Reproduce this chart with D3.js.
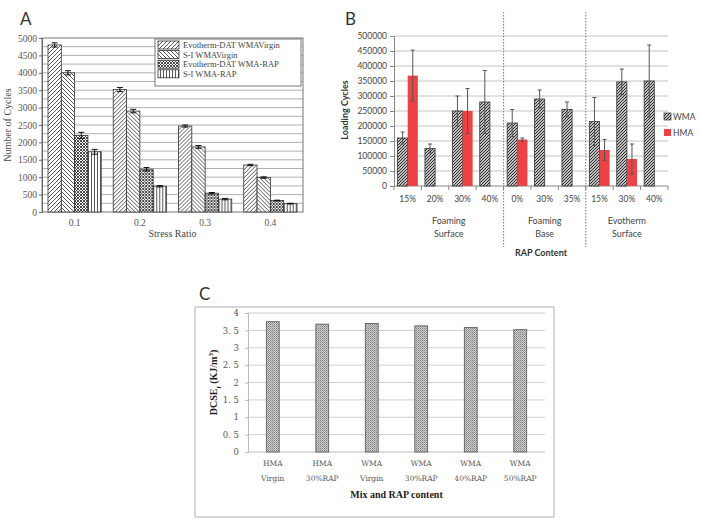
<!DOCTYPE html>
<html>
<head>
<meta charset="utf-8">
<script src="https://cdn.jsdelivr.net/npm/d3@7"></script>
<style>
  body { margin: 0; background: #fff; }
  svg { display: block; }
</style>
</head>
<body>
<script>
// ---- panel A data
const stressRatios = ["0.1", "0.2", "0.3", "0.4"]
const mixesA = ["Evotherm-DAT WMAVirgin", "S-I WMAVirgin", "Evotherm-DAT WMA-RAP", "S-I WMA-RAP"]
const cyclesA = [
  [4800, 4000, 2200, 1730],
  [3520, 2900, 1230, 740],
  [2470, 1870, 540, 370],
  [1350, 990, 330, 240],
]
const cyclesErrA = [
  [60, 60, 90, 70],
  [60, 50, 50, 20],
  [30, 40, 20, 20],
  [20, 20, 10, 10],
]
const ticksA = [0, 500, 1000, 1500, 2000, 2500, 3000, 3500, 4000, 4500, 5000]

// ---- panel B data
const rapB = ["15%", "20%", "30%", "40%", "0%", "30%", "35%", "15%", "30%", "40%"]
const groupNamesB = [["Foaming", "Surface"], ["Foaming", "Base"], ["Evotherm", "Surface"]]
const groupSizesB = [4, 3, 3]
const wmaB = [160000, 125000, 250000, 280000, 210000, 290000, 255000, 215000, 347000, 350000]
const wmaErrB = [20000, 15000, 50000, 105000, 45000, 30000, 25000, 80000, 43000, 120000]
const hmaB = [368000, null, 250000, null, 155000, null, null, 120000, 90000, null]
const hmaErrB = [85000, null, 75000, null, 5000, null, null, 35000, 50000, null]
const seriesB = ["WMA", "HMA"]
const ticksB = [0, 50000, 100000, 150000, 200000, 250000, 300000, 350000, 400000, 450000, 500000]

// ---- panel C data
const mixesC = [["HMA", "Virgin"], ["HMA", "30%RAP"], ["WMA", "Virgin"], ["WMA", "30%RAP"], ["WMA", "40%RAP"], ["WMA", "50%RAP"]]
const dcseC = [3.75, 3.68, 3.70, 3.63, 3.58, 3.52]
const ticksC = [0, 0.5, 1, 1.5, 2, 2.5, 3, 3.5, 4]

const width = 701
const height = 529
const serif = "'Liberation Serif', 'DejaVu Serif', serif"
const sans = "Lato, 'Open Sans', sans-serif"

const svg = d3.select("body").append("svg")
  .attr("width", width)
  .attr("height", height)

const defs = svg.append("defs")

function hatch(id, size, d, stroke, sw, bg) {
  const p = defs.append("pattern")
    .attr("id", id)
    .attr("patternUnits", "userSpaceOnUse")
    .attr("width", size)
    .attr("height", size)
  p.append("rect").attr("width", size).attr("height", size).attr("fill", bg || "#fff")
  p.append("path").attr("d", d).attr("stroke", stroke).attr("stroke-width", sw).attr("fill", "none")
}
// A patterns
hatch("pA0", 4, "M-1,1 l2,-2 M0,4 l4,-4 M3,5 l2,-2", "#444", 0.9)
hatch("pA1", 4, "M-1,3 l2,2 M0,0 l4,4 M3,-1 l2,2", "#444", 0.9)
hatch("pA2", 3, "M0,0 l3,3 M0,3 l3,-3", "#333", 0.9)
hatch("pA3", 3, "M1.5,0 v3", "#444", 0.9)
// B pattern
hatch("pB", 3, "M-1,1 l2,-2 M0,3 l3,-3 M2,4 l2,-2", "#222", 1.1)
// C stipple
{
  const p = defs.append("pattern")
    .attr("id", "pC").attr("patternUnits", "userSpaceOnUse")
    .attr("width", 2).attr("height", 2)
  p.append("rect").attr("width", 2).attr("height", 2).attr("fill", "#cfcfcf")
  p.append("rect").attr("width", 1).attr("height", 1).attr("fill", "#7e7e7e")
  p.append("rect").attr("x", 1).attr("y", 1).attr("width", 1).attr("height", 1).attr("fill", "#a0a0a0")
}

function panelLetter(t, x, y) {
  svg.append("text").attr("x", x).attr("y", y)
    .attr("font-family", sans).attr("font-size", 17)
    .attr("fill", "#333").text(t)
}

// ================= Panel A =================
{
  const x0 = 42, x1 = 303, yTop = 38, yBot = 212
  const g = svg.append("g")
  const x = d3.scaleBand().domain(stressRatios).range([x0, x1])
  const xs = d3.scaleBand().domain(d3.range(mixesA.length)).range([0, x.bandwidth()]).paddingOuter(0.45)
  const y = d3.scaleLinear().domain([0, 5000]).range([yBot, yTop])

  // grid every 250
  g.selectAll(".gridA").data(d3.range(250, 5000, 250)).enter().append("line")
    .attr("x1", x0).attr("x2", x1)
    .attr("y1", d => y(d)).attr("y2", d => y(d))
    .attr("stroke", "#9a9a9a").attr("stroke-width", 0.8)

  g.append("rect").attr("x", x0).attr("y", yTop).attr("width", x1 - x0).attr("height", yBot - yTop)
    .attr("fill", "none").attr("stroke", "#777").attr("stroke-width", 1)

  const yAxis = g.append("g").attr("transform", `translate(${x0},0)`)
    .call(d3.axisLeft(y).tickValues(ticksA).tickFormat(d3.format("d")).tickSize(3).tickPadding(2))
  yAxis.select(".domain").attr("stroke", "#666")
  yAxis.selectAll(".tick line").attr("stroke", "#666")
  yAxis.selectAll("text").attr("font-family", serif).attr("font-size", 9.5).attr("fill", "#555")

  const xAxis = g.append("g").attr("transform", `translate(0,${yBot})`)
    .call(d3.axisBottom(x).tickSize(0).tickPadding(7))
  xAxis.select(".domain").remove()
  xAxis.selectAll("text").attr("font-family", serif).attr("font-size", 9.5).attr("fill", "#555")

  const grp = g.selectAll(".grpA").data(stressRatios).enter().append("g")
    .attr("transform", d => `translate(${x(d)},0)`)
  grp.selectAll("rect").data((d, i) => cyclesA[i].map((v, j) => ({ v, j }))).enter().append("rect")
    .attr("x", d => xs(d.j)).attr("width", xs.bandwidth())
    .attr("y", d => y(d.v)).attr("height", d => yBot - y(d.v))
    .attr("fill", d => `url(#pA${d.j})`)
    .attr("stroke", "#333").attr("stroke-width", 0.8)
  grp.each(function (d, i) {
    const eg = d3.select(this)
    cyclesA[i].forEach((v, j) => {
      const e = cyclesErrA[i][j]
      const cx = xs(j) + xs.bandwidth() / 2
      eg.append("path")
        .attr("d", `M${cx},${y(v - e)}V${y(v + e)}M${cx - 3},${y(v + e)}h6M${cx - 3},${y(v - e)}h6`)
        .attr("stroke", "#111").attr("stroke-width", 1).attr("fill", "none")
    })
  })

  // legend
  const lg = g.append("g")
  lg.append("rect").attr("x", 155).attr("y", 39).attr("width", 146).attr("height", 47)
    .attr("fill", "#fff").attr("stroke", "#777").attr("stroke-width", 1)
  mixesA.forEach((m, j) => {
    const ly = 41 + j * 9.6
    lg.append("rect").attr("x", 158).attr("y", ly).attr("width", 21).attr("height", 8)
      .attr("fill", `url(#pA${j})`).attr("stroke", "#333").attr("stroke-width", 0.8)
    lg.append("text").attr("x", 183).attr("y", ly + 7)
      .attr("font-family", serif).attr("font-size", 8.5).attr("fill", "#444").text(m)
  })

  g.append("text").attr("transform", `translate(11,${(yTop + yBot) / 2}) rotate(-90)`)
    .attr("text-anchor", "middle").attr("font-family", serif).attr("font-size", 10)
    .attr("fill", "#444").text("Number of Cycles")
  g.append("text").attr("x", (x0 + x1) / 2).attr("y", 237)
    .attr("text-anchor", "middle").attr("font-family", serif).attr("font-size", 10)
    .attr("fill", "#444").text("Stress Ratio")
  panelLetter("A", 20, 25)
}

// ================= Panel B =================
{
  const x0 = 394, x1 = 668, yTop = 36, yBot = 186
  const g = svg.append("g")
  const x = d3.scaleBand().domain(d3.range(rapB.length)).range([x0, x1])
  const xs = d3.scaleBand().domain(seriesB).range([0, x.bandwidth()]).paddingOuter(0.35)
  const y = d3.scaleLinear().domain([0, 500000]).range([yBot, yTop])

  g.selectAll(".gridB").data(ticksB.slice(1)).enter().append("line")
    .attr("x1", x0).attr("x2", x1)
    .attr("y1", d => y(d)).attr("y2", d => y(d))
    .attr("stroke", "#c4c4c4").attr("stroke-width", 1)

  const yAxis = g.append("g").attr("transform", `translate(${x0},0)`)
    .call(d3.axisLeft(y).tickValues(ticksB).tickFormat(d3.format("d")).tickSize(4).tickPadding(3))
  yAxis.select(".domain").attr("stroke", "#888")
  yAxis.selectAll(".tick line").attr("stroke", "#888")
  yAxis.selectAll("text").attr("font-family", sans).attr("font-size", 8.5).attr("fill", "#444")

  // baseline with ticks at category boundaries
  g.append("line").attr("x1", x0).attr("x2", x1).attr("y1", yBot).attr("y2", yBot)
    .attr("stroke", "#888")
  g.selectAll(".tickB").data(d3.range(rapB.length + 1)).enter().append("line")
    .attr("x1", d => x0 + d * x.step()).attr("x2", d => x0 + d * x.step())
    .attr("y1", yBot).attr("y2", yBot + 4).attr("stroke", "#888")

  g.selectAll(".labB").data(rapB).enter().append("text")
    .attr("x", (d, i) => x(i) + x.bandwidth() / 2).attr("y", 202)
    .attr("text-anchor", "middle").attr("font-family", sans).attr("font-size", 8.5)
    .attr("fill", "#444").text(d => d)

  // group separators and labels
  let start = 0
  groupNamesB.forEach((nm, k) => {
    const a = x0 + start * x.step()
    const b = x0 + (start + groupSizesB[k]) * x.step()
    if (k > 0) {
      g.append("line").attr("x1", a).attr("x2", a).attr("y1", 12).attr("y2", 247)
        .attr("stroke", "#777").attr("stroke-width", 1).attr("stroke-dasharray", "1.5,1.5")
    }
    nm.forEach((line, li) => {
      g.append("text").attr("x", (a + b) / 2).attr("y", 224 + li * 13)
        .attr("text-anchor", "middle").attr("font-family", sans).attr("font-size", 9)
        .attr("fill", "#444").text(line)
    })
    start += groupSizesB[k]
  })

  // bars
  g.selectAll(".wma").data(wmaB).enter().append("rect")
    .attr("x", (d, i) => x(i) + xs("WMA")).attr("width", xs.bandwidth())
    .attr("y", d => y(d)).attr("height", d => yBot - y(d))
    .attr("fill", "url(#pB)").attr("stroke", "#333").attr("stroke-width", 0.8)
  const hmaIdx = hmaB.map((v, i) => i).filter(i => hmaB[i] != null)
  g.selectAll(".hma").data(hmaIdx).enter().append("rect")
    .attr("x", i => x(i) + xs("HMA")).attr("width", xs.bandwidth())
    .attr("y", i => y(hmaB[i])).attr("height", i => yBot - y(hmaB[i]))
    .attr("fill", "#ec4446")

  function errBar(cx, v, e) {
    g.append("path")
      .attr("d", `M${cx},${y(v - e)}V${y(v + e)}M${cx - 2},${y(v + e)}h4M${cx - 2},${y(v - e)}h4`)
      .attr("stroke", "#555").attr("stroke-width", 1).attr("fill", "none")
  }
  wmaB.forEach((v, i) => errBar(x(i) + xs("WMA") + xs.bandwidth() / 2, v, wmaErrB[i]))
  hmaIdx.forEach(i => errBar(x(i) + xs("HMA") + xs.bandwidth() / 2, hmaB[i], hmaErrB[i]))

  // legend
  g.append("rect").attr("x", 664).attr("y", 113).attr("width", 7).attr("height", 7)
    .attr("fill", "url(#pB)").attr("stroke", "#333").attr("stroke-width", 0.7)
  g.append("text").attr("x", 673).attr("y", 120).attr("font-family", sans).attr("font-size", 8.5)
    .attr("fill", "#444").text(seriesB[0])
  g.append("rect").attr("x", 664).attr("y", 129).attr("width", 7).attr("height", 7).attr("fill", "#ec4446")
  g.append("text").attr("x", 673).attr("y", 136).attr("font-family", sans).attr("font-size", 8.5)
    .attr("fill", "#444").text(seriesB[1])

  g.append("text").attr("transform", `translate(348,${(yTop + yBot) / 2 - 1}) rotate(-90)`)
    .attr("text-anchor", "middle").attr("font-family", sans).attr("font-size", 9)
    .attr("font-weight", "bold").attr("fill", "#333").text("Loading Cycles")
  g.append("text").attr("x", 541).attr("y", 256)
    .attr("text-anchor", "middle").attr("font-family", sans).attr("font-size", 9)
    .attr("font-weight", "bold").attr("fill", "#333").text("RAP Content")
  panelLetter("B", 345, 25)
}

// ================= Panel C =================
{
  const x0 = 248, x1 = 545, yTop = 313, yBot = 452
  const g = svg.append("g")
  g.append("rect").attr("x", 195).attr("y", 307).attr("width", 359).attr("height", 210)
    .attr("fill", "none").attr("stroke", "#bdbdbd").attr("stroke-width", 1.2)

  const x = d3.scaleBand().domain(d3.range(mixesC.length)).range([x0, x1]).paddingInner(0.74).paddingOuter(0.37)
  const y = d3.scaleLinear().domain([0, 4]).range([yBot, yTop])

  g.selectAll(".gridC").data(ticksC.slice(1)).enter().append("line")
    .attr("x1", x0).attr("x2", x1)
    .attr("y1", d => y(d)).attr("y2", d => y(d))
    .attr("stroke", "#cfcfcf").attr("stroke-width", 1)

  const yAxis = g.append("g").attr("transform", `translate(${x0},0)`)
    .call(d3.axisLeft(y).tickValues(ticksC).tickSize(3).tickPadding(6)
      .tickFormat(d => String(d).replace(".", ". ")))
  yAxis.select(".domain").attr("stroke", "#bbb")
  yAxis.selectAll(".tick line").attr("stroke", "#bbb")
  yAxis.selectAll("text").attr("font-family", "'DejaVu Serif', serif").attr("font-size", 8.5).attr("fill", "#555")

  g.append("line").attr("x1", x0).attr("x2", x1).attr("y1", yBot).attr("y2", yBot)
    .attr("stroke", "#bbb")

  g.selectAll(".barC").data(dcseC).enter().append("rect")
    .attr("x", (d, i) => x(i)).attr("width", x.bandwidth())
    .attr("y", d => y(d)).attr("height", d => yBot - y(d))
    .attr("fill", "url(#pC)").attr("stroke", "#555").attr("stroke-width", 0.8)

  mixesC.forEach((lines, i) => {
    lines.forEach((t, li) => {
      g.append("text").attr("x", x(i) + x.bandwidth() / 2).attr("y", 466 + li * 15)
        .attr("text-anchor", "middle").attr("font-family", "'DejaVu Serif', serif")
        .attr("font-size", 7.5).attr("fill", "#555").text(t)
    })
  })

  g.append("text").attr("x", (x0 + x1) / 2).attr("y", 498)
    .attr("text-anchor", "middle").attr("font-family", serif).attr("font-size", 10)
    .attr("font-weight", "bold").attr("fill", "#222").text("Mix and RAP content")

  const yl = g.append("text").attr("transform", `translate(217,${(yTop + yBot) / 2}) rotate(-90)`)
    .attr("text-anchor", "middle").attr("font-family", serif).attr("font-size", 10)
    .attr("font-weight", "bold").attr("fill", "#222")
  yl.append("tspan").text("DCSE")
  yl.append("tspan").attr("font-size", 7).attr("baseline-shift", "sub").text("f")
  yl.append("tspan").text(" (KJ/m")
  yl.append("tspan").attr("font-size", 7).attr("baseline-shift", "super").text("3")
  yl.append("tspan").text(")")

  panelLetter("C", 199, 300)
}
</script>
</body>
</html>
